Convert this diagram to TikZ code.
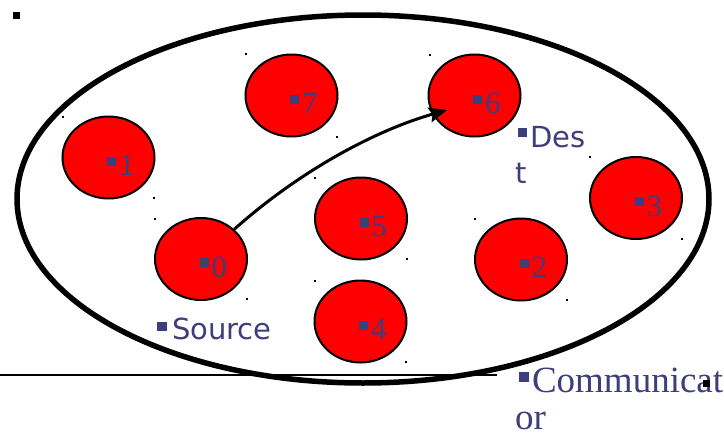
\documentclass[tikz,border=0pt]{standalone}
\usepackage{fontspec}
\setmainfont{Liberation Serif}
\newfontfamily\dvsans{DejaVu Sans}
\usetikzlibrary{arrows.meta,shapes.geometric}
\definecolor{labblue}{RGB}{62,62,125}
\definecolor{nodered}{RGB}{255,0,0}
\begin{document}
\begin{tikzpicture}[x=1pt,y=-1pt,
  peer/.style={ellipse, draw=black, line width=2pt, fill=nodered,
    minimum width=92pt, minimum height=82pt, inner sep=0pt},
  numlab/.style={anchor=base west, inner sep=0pt, outer sep=0pt, text=labblue,
    font=\fontsize{31}{31}\selectfont},
  sanslab/.style={anchor=base west, inner sep=0pt, outer sep=0pt, text=labblue,
    font=\dvsans\fontsize{29}{29}\selectfont},
  seriflab/.style={anchor=base west, inner sep=0pt, outer sep=0pt, text=labblue,
    font=\fontsize{37}{37}\selectfont},
  tinydot/.style={rectangle, fill=black, minimum size=2pt, inner sep=0pt},
  blacksq/.style={rectangle, fill=black, minimum size=7pt, inner sep=0pt},
  link/.style={line width=3pt, -{Stealth[length=18pt,width=15pt,inset=3pt]}}
]
\useasboundingbox (0,0) rectangle (724,434);
\fill[white] (0,0) rectangle (724,434);

% top-left bullet
\node[blacksq] (sqa) at (16.5,15.5) {};

% communicator ellipse
\draw[line width=5.5pt] (363,199) ellipse [x radius=346pt, y radius=184pt];

% horizontal line
\coordinate (hl1) at (0,375);
\coordinate (hl2) at (497,375);
\draw[line width=2.5pt] (hl1) -- (hl2);

% peers
\node[peer] (n7) at (291.5,95.5) {};
\node[peer] (n6) at (474.5,95.5) {};
\node[peer] (n1) at (108.5,157.5) {};
\node[peer] (n0) at (201,259) {};
\node[peer] (n5) at (361,218.5) {};
\node[peer] (n4) at (360.5,321.5) {};
\node[peer] (n2) at (521,259.5) {};
\node[peer] (n3) at (636,198) {};

% peer labels
\node[numlab] (l0) at ([shift={(-1.5,18)}]n0.center) {\rule[10pt]{9pt}{9pt}\hspace{3pt}0};
\node[numlab] (l1) at ([shift={(-1.5,18)}]n1.center) {\rule[10pt]{9pt}{9pt}\hspace{3pt}1};
\node[numlab] (l2) at ([shift={(-1.5,18)}]n2.center) {\rule[10pt]{9pt}{9pt}\hspace{3pt}2};
\node[numlab] (l3) at ([shift={(-1.5,18)}]n3.center) {\rule[10pt]{9pt}{9pt}\hspace{3pt}3};
\node[numlab] (l4) at ([shift={(-1.5,18)}]n4.center) {\rule[10pt]{9pt}{9pt}\hspace{3pt}4};
\node[numlab] (l5) at ([shift={(-1.5,18)}]n5.center) {\rule[10pt]{9pt}{9pt}\hspace{3pt}5};
\node[numlab] (l6) at ([shift={(-1.5,18)}]n6.center) {\rule[10pt]{9pt}{9pt}\hspace{3pt}6};
\node[numlab] (l7) at ([shift={(-1.5,18)}]n7.center) {\rule[10pt]{9pt}{9pt}\hspace{3pt}7};

% tiny text-frame dots
\node[tinydot] (d1) at (246,54) {};
\node[tinydot] (d2) at (337,137) {};
\node[tinydot] (d3) at (430,55) {};
\node[tinydot] (d4) at (63,117) {};
\node[tinydot] (d5) at (154,198) {};
\node[tinydot] (d6) at (155,219) {};
\node[tinydot] (d7) at (247,299) {};
\node[tinydot] (d8) at (315,178) {};
\node[tinydot] (d9) at (407,259) {};
\node[tinydot] (d10) at (315,281) {};
\node[tinydot] (d11) at (406,362) {};
\node[tinydot] (d12) at (475,219) {};
\node[tinydot] (d13) at (567,300) {};
\node[tinydot] (d14) at (590,157) {};
\node[tinydot] (d15) at (682,239) {};

% role labels
\node[sanslab] (src) at (157,339) {\rule[8pt]{10pt}{9pt}\hspace{5pt}Source};
\node[sanslab] (dsta) at (518,147) {\rule[10pt]{9pt}{9pt}\hspace{3pt}Des};
\node[sanslab] (dstb) at (515,183) {t};
\node[seriflab] (coma) at (519,392) {\rule[10pt]{10pt}{10pt}\hspace{3pt}Communicat};
\node[seriflab, text depth=0pt] (comb) at (515,429) {or};
\node[blacksq] (sqb) at (706.5,383.5) {};

% message path
\coordinate (tip6) at (447,110);
\draw[link] (n0) .. controls (295,175) and (370,132) .. (tip6);
\end{tikzpicture}
\end{document}
